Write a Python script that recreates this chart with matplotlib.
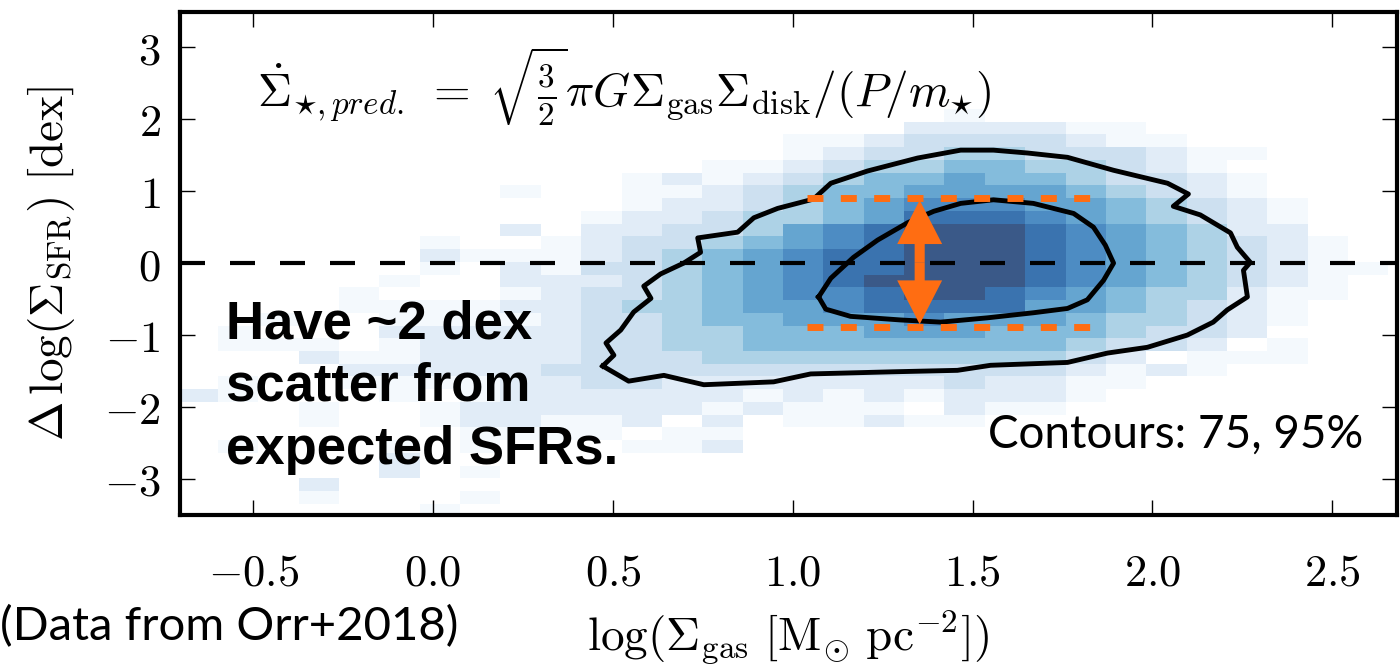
import numpy as np
import matplotlib.pyplot as plt
from matplotlib.colors import Normalize
from matplotlib.ticker import FuncFormatter

plt.rcParams['mathtext.fontset'] = 'cm'

# 2D histogram bins: log(Sigma_gas) and delta log(Sigma_SFR)
x_edges = np.linspace(-0.71, 2.656, 31)
y_edges = np.linspace(-3.522, 2.496, 35)

# shade level of each cell (0 = empty, 9 = densest), top row first
hist_rows = [
    "0000000000" "0000000000" "0000000000",
    "0000000000" "0000000000" "0000000000",
    "0000000000" "0000000001" "0000000000",
    "0000000000" "0000000022" "2211000000",
    "0000000000" "0000011233" "3321100000",
    "0000000000" "0000012334" "4333211000",
    "0000000000" "0001123445" "5443210000",
    "0000000000" "0121234556" "5543321000",
    "0000000010" "0112345566" "6654321000",
    "0000000000" "0122345677" "7665432100",
    "0000000000" "1223445688" "8765432100",
    "0000000020" "2233467899" "9876542200",
    "0000001001" "2334567899" "9876543210",
    "0000002111" "2345678899" "9876543210",
    "0000001021" "3345678899" "9876543211",
    "0000010022" "2345678999" "9876543210",
    "0000100012" "3345677899" "8765442110",
    "0000111122" "3445667888" "8665432100",
    "0010011112" "3345566676" "6654432100",
    "0100022222" "3344555666" "5554332000",
    "0111012222" "3344555555" "5543320100",
    "0002112222" "3334444444" "4432011100",
    "0000222223" "3333333333" "3321210000",
    "0100111122" "3322222223" "2211000000",
    "2100010122" "2222121212" "2210000000",
    "0001001222" "2221211102" "1100000000",
    "0001001221" "1202011211" "0000000000",
    "0000000111" "1011000000" "0000000000",
    "0100010100" "0112000000" "0000000000",
    "0000020000" "0000000000" "0000000000",
    "0000020100" "0000000000" "0000000000",
    "0002000000" "0000000000" "0000000000",
    "0001000100" "0000000000" "0000000000",
    "0000001000" "0000000000" "0000000000",
]

# 95% and 75% contours
outer_x = [0.472, 0.503, 0.481, 0.522, 0.558, 0.606, 0.586, 0.633, 0.697, 0.744,
           0.736, 0.847, 0.892, 0.958, 1.058, 1.106, 1.208, 1.347, 1.467, 1.558,
           1.653, 1.764, 1.892, 2.042, 2.100, 2.058, 2.133, 2.217, 2.236, 2.272,
           2.253, 2.264, 2.208, 2.169, 2.097, 1.986, 1.875, 1.764, 1.550, 1.458,
           1.281, 1.050, 0.947, 0.753, 0.642, 0.544, 0.472]
outer_y = [-1.43, -1.28, -1.11, -0.93, -0.68, -0.49, -0.32, -0.15, 0.00, 0.15,
           0.35, 0.43, 0.63, 0.76, 0.89, 1.11, 1.28, 1.46, 1.57, 1.57,
           1.53, 1.47, 1.29, 1.11, 0.96, 0.79, 0.67, 0.42, 0.22, 0.01,
           -0.10, -0.47, -0.65, -0.82, -1.00, -1.17, -1.25, -1.38, -1.42, -1.49,
           -1.51, -1.54, -1.65, -1.69, -1.56, -1.64, -1.43]
inner_x = [1.072, 1.106, 1.169, 1.236, 1.319, 1.392, 1.467, 1.558, 1.669, 1.781,
           1.836, 1.869, 1.892, 1.864, 1.819, 1.764, 1.669, 1.542, 1.411, 1.300,
           1.161, 1.092, 1.072]
inner_y = [-0.47, -0.21, 0.08, 0.32, 0.56, 0.72, 0.83, 0.88, 0.83, 0.69,
           0.50, 0.25, 0.00, -0.24, -0.51, -0.63, -0.69, -0.76, -0.82, -0.79,
           -0.74, -0.64, -0.47]

# scatter band marked in orange
band_lo, band_hi = -0.89, 0.90
band_x0, band_x1 = 1.04, 1.855
arrow_x, arrow_top, arrow_bot = 1.353, 0.875, -0.85

orange = '#ff6d12'

counts = np.array([[int(c) for c in r] for r in hist_rows[::-1]], dtype=float)
counts = np.ma.masked_equal(counts, 0)

fig = plt.figure(figsize=(14, 6.65), dpi=100)
ax = fig.add_axes([0.1286, 0.2256, 0.8693, 0.7564])

ax.pcolormesh(x_edges, y_edges, counts, cmap='Blues', alpha=0.8,
              norm=Normalize(vmin=0.8, vmax=9), zorder=0)
ax.plot(outer_x, outer_y, color='k', lw=3.5, zorder=2)
ax.plot(inner_x, inner_y, color='k', lw=3.5, zorder=2)
ax.axhline(0, color='k', lw=3, dashes=(6, 6), zorder=3)

for yb in (band_lo, band_hi):
    ax.plot([band_x0, band_x1], [yb, yb], color=orange, lw=5,
            dashes=(2.3, 2.5), solid_capstyle='butt', zorder=4)
ymid = 0.5 * (arrow_top + arrow_bot)
for yend in (arrow_top, arrow_bot):
    ax.arrow(arrow_x, ymid, 0, yend - ymid, width=0.028, head_width=0.125,
             head_length=0.61, length_includes_head=True, color=orange,
             lw=0, zorder=5)

ax.text(-0.49, 2.45,
        r'$\dot{\Sigma}_{\star,pred.}\;=\;\sqrt{\frac{3}{2}}\pi G \Sigma_{\rm gas}'
        r'\Sigma_{\rm disk}/(P/m_{\star})$',
        fontsize=34, ha='left', va='center')
ax.text(-0.575, -0.5, 'Have ~2 dex\nscatter from\nexpected SFRs.',
        family='Liberation Sans', weight='bold', fontsize=38,
        ha='left', va='top', linespacing=1.33)
ax.text(2.586, -2.39, 'Contours: 75, 95%', family='Lato',
        fontsize=33, ha='right', va='center')
fig.text(0.0, 0.057, '(Data from Orr+2018)', family='Lato',
         fontsize=34, ha='left', va='center')

ax.set_xlim(-0.703, 2.68)
ax.set_ylim(-3.5, 3.49)
ax.set_xticks([-0.5, 0.0, 0.5, 1.0, 1.5, 2.0, 2.5])
ax.set_yticks([-3, -2, -1, 0, 1, 2, 3])
ax.xaxis.set_major_formatter(FuncFormatter(lambda v, p: f'${v:.1f}$'))
ax.yaxis.set_major_formatter(FuncFormatter(lambda v, p: f'${v:.0f}$'))
ax.tick_params(direction='in', top=True, right=True, length=11, width=1,
               labelsize=32)
ax.tick_params(axis='x', pad=26)
ax.tick_params(axis='y', pad=14)
for s in ax.spines.values():
    s.set_linewidth(3)

ax.set_xlabel(r'$\log(\Sigma_{\rm gas}\ [{\rm M_{\odot}\ pc^{-2}}])$', fontsize=34)
ax.set_ylabel(r'$\Delta\,\log(\Sigma_{\rm SFR})\ [{\rm dex}]$', fontsize=34)
ax.xaxis.set_label_coords(0.5, -0.185)
ax.yaxis.set_label_coords(-0.085, 0.5)

fig.savefig('out.png', dpi=100)
